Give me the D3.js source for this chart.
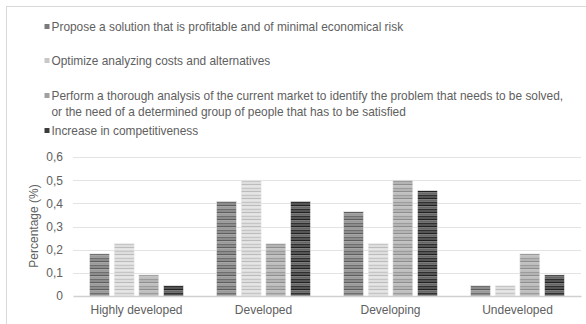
<!DOCTYPE html>
<html><head><meta charset="utf-8">
<script src="https://cdn.jsdelivr.net/npm/d3@7"></script>
<style>body{margin:0;background:#fff}svg{display:block}text{font-family:"Liberation Sans",Arial,sans-serif;fill:#606060}</style>
</head><body>
<svg id="c" width="586" height="324"></svg>
<script>
const categories = ["Highly developed","Developed","Developing","Undeveloped"];
const seriesNames = [
  ["Propose a solution that is profitable and of minimal economical risk"],
  ["Optimize analyzing costs and alternatives"],
  ["Perform a thorough analysis of the current market to identify the problem that needs to be solved,","or the need of a determined group of people that has to be satisfied"],
  ["Increase in competitiveness"]
];
const s1 = [0.182, 0.409, 0.364, 0.045];
const s2 = [0.227, 0.5, 0.227, 0.045];
const s3 = [0.091, 0.227, 0.5, 0.182];
const s4 = [0.045, 0.409, 0.455, 0.091];
const yTicks = [0, 0.1, 0.2, 0.3, 0.4, 0.5, 0.6];
const yTickLabels = ["0","0,1","0,2","0,3","0,4","0,5","0,6"];
const series = [s1, s2, s3, s4];
const swatch = ["#7a7a7a","#c8c8c8","#a0a0a0","#3c3c3c"];
const stripes = [
  ["#8c8c8c","#5e5e5e","#9a9a9a","#6e6e6e"],
  ["#dedede","#bcbcbc","#e6e6e6","#c6c6c6"],
  ["#b4b4b4","#8e8e8e","#c0c0c0","#9c9c9c"],
  ["#555555","#222222","#666666","#303030"]
];

const svg = d3.select("#c");
const defs = svg.append("defs");
stripes.forEach((cols, i) => {
  const p = defs.append("pattern").attr("id","p"+i).attr("patternUnits","userSpaceOnUse")
    .attr("width",10).attr("height",7);
  const hs = [2,1.5,2,1.5];
  let y = 0;
  cols.forEach((c,j) => { p.append("rect").attr("x",0).attr("y",y).attr("width",10).attr("height",hs[j]).attr("fill",c); y += hs[j]; });
});

// chart border
svg.append("rect").attr("x",6.5).attr("y",6.5).attr("width",600).attr("height",330)
  .attr("fill","none").attr("stroke","#d9d9d9").attr("stroke-width",1);

// legend
const legend = svg.append("g");
const ly = [27, 61, 96, 131];
seriesNames.forEach((lines, i) => {
  legend.append("rect").attr("x",44.5).attr("y",ly[i]-3).attr("width",5).attr("height",5).attr("fill",swatch[i]);
  lines.forEach((t, k) => {
    legend.append("text").attr("x",51.5).attr("y",ly[i]+4+k*16).attr("font-size","11.9px").text(t);
  });
});

const x0 = d3.scaleBand().domain(categories).range([73, 581]).paddingInner(0.26).paddingOuter(0.13);
const x1 = d3.scaleBand().domain(d3.range(4)).range([0, x0.bandwidth()]).paddingInner(0.19);
const y = d3.scaleLinear().domain([0, 0.6]).range([296, 157]);

// grid
svg.append("g").selectAll("line").data(yTicks.slice(1)).join("line")
  .attr("x1",73).attr("x2",581).attr("y1",d=>Math.round(y(d))+0.5).attr("y2",d=>Math.round(y(d))+0.5)
  .attr("stroke","#e3e3e3").attr("stroke-width",1);

// y axis labels
const yAxis = d3.axisLeft(y).tickValues(yTicks).tickFormat((d,i)=>yTickLabels[i]).tickSize(0).tickPadding(10);
const ya = svg.append("g").attr("transform","translate(73,0)").call(yAxis);
ya.select(".domain").remove();
ya.selectAll("text").attr("font-size","12px").attr("fill","#606060").style("font-family","'Liberation Sans',Arial,sans-serif");

svg.append("text").attr("transform","translate(38,226) rotate(-90)").attr("text-anchor","middle")
  .attr("font-size","12px").text("Percentage (%)");

// bars
const g = svg.append("g");
categories.forEach((c, ci) => {
  series.forEach((s, si) => {
    g.append("rect").attr("x", x0(c)+x1(si)).attr("width", x1.bandwidth())
      .attr("y", y(s[ci])).attr("height", y(0)-y(s[ci]))
      .attr("fill","url(#p"+si+")").attr("stroke","#eeeeee").attr("stroke-width",0.6);
  });
});

// x axis
const xAxis = d3.axisBottom(x0).tickSize(0).tickPadding(9);
const xa = svg.append("g").attr("transform","translate(0,296)").call(xAxis);
xa.select(".domain").attr("stroke","#d0d0d0").attr("stroke-width",1.6);
xa.selectAll("text").attr("font-size","12px").attr("fill","#606060").style("font-family","'Liberation Sans',Arial,sans-serif");
</script>
</body></html>
